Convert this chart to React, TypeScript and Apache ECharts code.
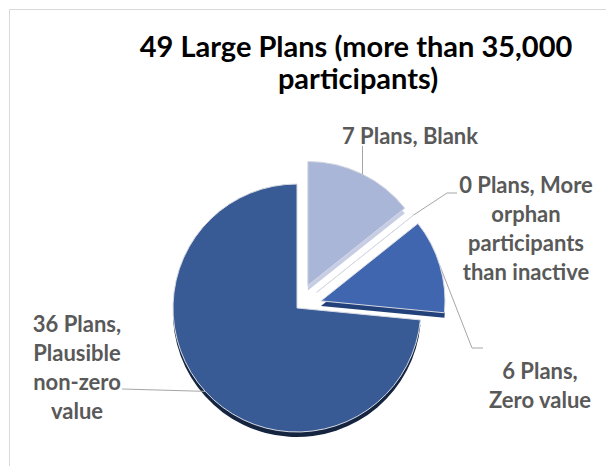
import React, { useEffect, useRef } from 'react';
import * as echarts from 'echarts';

const categories = [
  'Blank',
  'More orphan participants than inactive',
  'Zero value',
  'Plausible non-zero value',
];
const values = [7, 0, 6, 36];
const labelNames = [
  ' Blank',
  ' More\norphan\nparticipants\nthan inactive',
  '\nZero value',
  '\nPlausible\nnon-zero\nvalue',
];
const explodedSlices = [true, true, true, false];
const titleLines = ['49 Large Plans (more than 35,000', 'participants)'];

const faceColors = ['#aab6d8', '#c4cce6', '#3f66ae', '#385b96'];
const depthColors = ['#c6cde5', '#c6cde5', '#22407a', '#15243f'];

export default function App() {
  const ref = useRef<HTMLDivElement>(null);
  useEffect(() => {
    if (!ref.current) return;
    const chart = echarts.init(ref.current, null, { renderer: 'svg' });
    const cx = 297;
    const cy = 308;
    const radius = 124;
    const explodeDist = 25;
    const depth = 5;
    const labelAnchors: Record<number, [number, number]> = {
      0: [410, 135],
      1: [526, 228],
      2: [540, 385],
      3: [77, 367],
    };
    // Bends of each leader line after its start on the slice edge.
    const leaderBends: Record<number, number[][]> = {
      1: [[447, 193], [457, 193]],
      2: [[472, 348], [483, 348]],
      3: [[122, 389]],
    };
    const verticalLeaderTop = 146; // leader of the first slice rises straight up to its label
    const total = values.reduce((a, b) => a + b, 0);

    const midAngle = (i: number) => {
      const before = values.slice(0, i).reduce((a, b) => a + b, 0);
      return ((before + values[i] / 2) / total) * Math.PI * 2;
    };
    const sliceOffset = (i: number) => {
      if (!explodedSlices[i]) return [0, 0];
      const mid = midAngle(i);
      return [Math.sin(mid) * explodeDist, -Math.cos(mid) * explodeDist];
    };
    const arcPoint = (i: number) => {
      const [dx, dy] = sliceOffset(i);
      const mid = midAngle(i);
      return [cx + dx + Math.sin(mid) * radius, cy + dy - Math.cos(mid) * radius];
    };

    const hidden = {
      itemStyle: { color: 'rgba(0,0,0,0)', borderWidth: 0 },
      label: { show: false },
      labelLine: { show: false },
    };

    const makeSeries = (i: number, isDepth: boolean) => {
      const [dx, dy] = sliceOffset(i);
      const sx = cx + dx;
      const sy = cy + dy;
      const ownLeader = !isDepth && !!leaderBends[i];
      return {
        type: 'pie',
        name: isDepth ? `depth-${categories[i]}` : categories[i],
        z: isDepth ? 1 : 2,
        silent: isDepth,
        center: [sx, sy + (isDepth ? depth : 0)],
        radius,
        startAngle: 90,
        clockwise: true,
        avoidLabelOverlap: false,
        emphasis: { disabled: true },
        itemStyle: isDepth
          ? { borderWidth: 0 }
          : { borderColor: '#d6d9e2', borderWidth: 1 },
        label: {
          show: !isDepth,
          position: 'outside',
          overflow: 'none',
          formatter: (p: any) => `${p.value} Plans,${labelNames[p.dataIndex]}`,
          fontFamily: 'Lato',
          fontWeight: 'bold',
          fontSize: 22,
          lineHeight: 29,
          color: '#595959',
          align: 'center',
        },
        labelLine: {
          show: ownLeader,
          lineStyle: { color: '#a6a6a6', width: 1 },
        },
        labelLayout: isDepth
          ? undefined
          : (p: any) => {
              const a = labelAnchors[p.dataIndex];
              const out: any = { x: a[0], y: a[1], align: 'center', verticalAlign: 'middle' };
              if (leaderBends[p.dataIndex]) {
                out.labelLinePoints = [arcPoint(p.dataIndex), ...leaderBends[p.dataIndex]];
              }
              return out;
            },
        data: values.map((v, j) =>
          j === i
            ? {
                value: v,
                name: categories[j],
                itemStyle: { color: isDepth ? depthColors[j] : faceColors[j] },
              }
            : { value: v, name: categories[j], ...hidden }
        ),
      };
    };

    const series: any[] = [];
    values.forEach((_, i) => series.push(makeSeries(i, true)));
    values.forEach((_, i) => series.push(makeSeries(i, false)));

    // leader of slice 0: a 1px column from its arc straight up to the label
    const p0 = arcPoint(0);
    const lx = Math.round(p0[0]);
    const [d0x, d0y] = sliceOffset(0);
    const rel = lx + 0.5 - cx - d0x;
    const ly = cy + d0y - Math.sqrt(radius * radius - rel * rel);

    chart.setOption({
      animation: false,
      backgroundColor: '#ffffff',
      graphic: [
        {
          type: 'rect',
          z: -10,
          silent: true,
          shape: { x: 9.5, y: 9.5, width: 700, height: 500 },
          style: { fill: 'none', stroke: '#d9d9d9', lineWidth: 1 },
        },
        {
          type: 'rect',
          z: 100,
          silent: true,
          shape: { x: lx, y: verticalLeaderTop, width: 1, height: ly - verticalLeaderTop },
          style: { fill: '#a6a6a6' },
        },
        {
          type: 'text',
          x: 356,
          y: 45,
          style: {
            text: titleLines[0],
            align: 'center',
            verticalAlign: 'middle',
            fontFamily: 'Lato',
            fontWeight: 'bold',
            fontSize: 29,
            fill: '#000000',
          },
        },
        {
          type: 'text',
          x: 358,
          y: 77,
          style: {
            text: titleLines[1],
            align: 'center',
            verticalAlign: 'middle',
            fontFamily: 'Lato',
            fontWeight: 'bold',
            fontSize: 29,
            fill: '#000000',
          },
        },
      ],
      series,
    });
    return () => chart.dispose();
  }, []);
  return (
    <div
      ref={ref}
      style={{ position: 'absolute', left: 0, top: 0, width: 606, height: 466 }}
    />
  );
}
